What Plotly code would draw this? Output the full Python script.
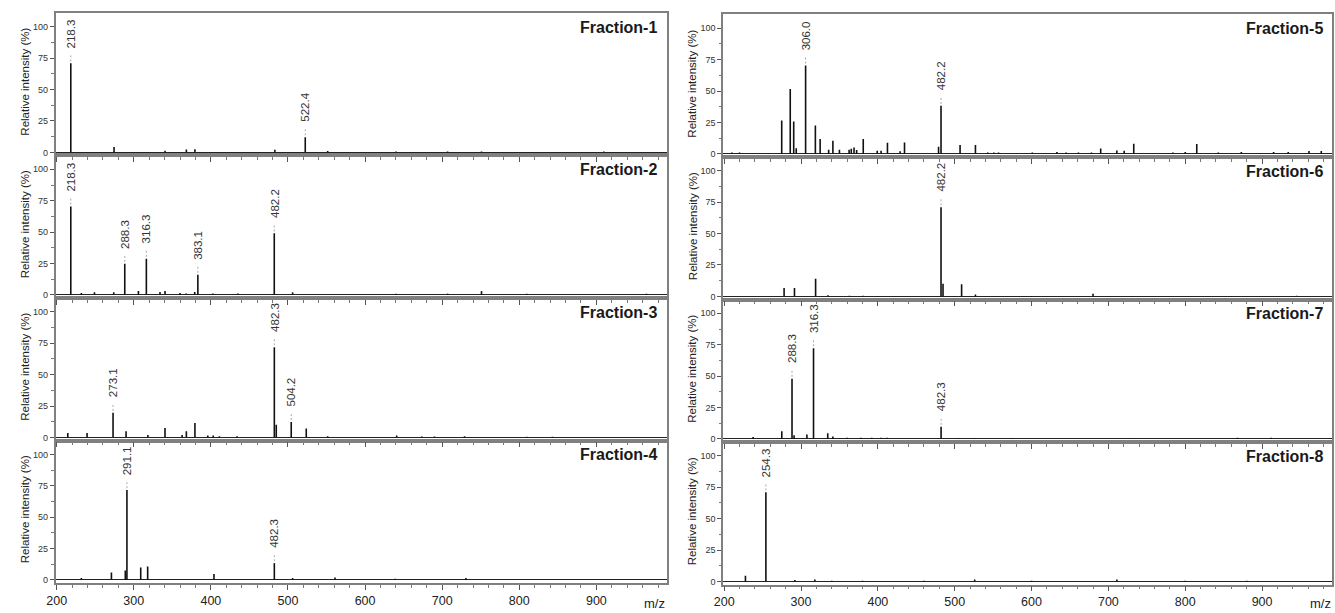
import plotly.graph_objects as go

# ---------------- data ----------------
fraction_names = ["Fraction-1", "Fraction-2", "Fraction-3", "Fraction-4",
                  "Fraction-5", "Fraction-6", "Fraction-7", "Fraction-8"]

f1_mz = [218.3, 274.4, 340.5, 368.2, 379.3, 483.0, 522.4, 551.5, 640.0, 707.0, 751.0, 909.6]
f1_int = [70.9, 4.3, 1.2, 2.2, 2.5, 2.0, 12.1, 1.0, 0.7, 0.6, 0.7, 0.7]
f1_lab = [218.3, 522.4]

f2_mz = [218.3, 232.0, 249.0, 274.0, 288.3, 306.0, 316.3, 334.0, 340.5, 360.0, 368.0, 379.0,
         383.1, 402.6, 435.0, 482.2, 506.0, 640.0, 707.0, 751.0, 809.6, 965.0]
f2_int = [70.4, 1.5, 2.0, 2.0, 24.7, 3.0, 28.8, 2.2, 3.0, 1.5, 1.2, 2.2,
          16.1, 1.2, 1.2, 49.0, 2.0, 1.0, 1.0, 3.0, 1.0, 1.0]
f2_lab = [218.3, 288.3, 316.3, 383.1, 482.2]

f3_mz = [214.4, 239.4, 273.1, 290.0, 318.3, 340.5, 362.7, 368.2, 379.3, 396.0, 403.0, 411.0,
         434.0, 482.3, 484.8, 504.2, 523.7, 551.5, 641.0, 673.6, 690.0, 729.0, 809.6, 843.0]
f3_int = [3.5, 3.5, 19.6, 5.0, 2.0, 7.5, 2.0, 5.0, 11.5, 1.5, 1.5, 1.0,
          1.0, 71.8, 10.0, 12.3, 7.0, 1.0, 1.5, 0.7, 0.7, 1.0, 0.5, 0.5]
f3_lab = [273.1, 482.3, 504.2]

f4_mz = [232.0, 271.0, 289.0, 291.1, 309.0, 318.0, 333.8, 404.0, 482.3, 506.0, 561.0, 639.0, 730.8]
f4_int = [1.5, 5.9, 7.5, 71.6, 10.0, 10.7, 0.5, 4.8, 13.4, 1.5, 2.0, 1.0, 1.5]
f4_lab = [291.1, 482.3]

f5_mz = [210.0, 220.0, 274.9, 286.0, 290.5, 293.8, 306.0, 318.7, 324.9, 336.0, 341.5, 350.0,
         362.6, 365.4, 369.0, 372.4, 381.0, 399.2, 404.2, 412.5, 429.0, 434.7, 479.0, 482.2,
         507.0, 527.0, 543.0, 551.0, 557.0, 601.0, 633.0, 645.0, 661.0, 678.0, 690.0, 711.0,
         720.5, 733.0, 784.0, 800.0, 815.0, 843.0, 873.0, 915.0, 934.0, 961.0, 977.0]
f5_int = [1.0, 1.0, 26.6, 51.6, 25.8, 4.5, 70.4, 22.6, 11.8, 3.2, 10.5, 3.2,
          3.2, 4.0, 5.0, 3.0, 11.8, 2.4, 2.4, 8.9, 2.0, 9.1, 5.6, 38.2,
          7.0, 7.0, 1.0, 1.0, 1.0, 1.0, 1.5, 1.0, 1.0, 1.0, 4.3, 2.7,
          2.4, 8.0, 1.0, 1.5, 7.8, 1.0, 1.5, 1.5, 1.5, 2.2, 2.2]
f5_lab = [306.0, 482.2]

f6_mz = [278.0, 291.5, 319.0, 335.0, 363.0, 381.0, 482.2, 484.8, 509.0, 527.0, 600.0, 680.0,
         730.0, 860.0, 945.0]
f6_int = [6.7, 6.7, 14.0, 1.0, 0.5, 0.5, 71.0, 10.0, 9.7, 1.5, 0.3, 2.0,
          0.3, 0.3, 0.5]
f6_lab = [482.2]

f7_mz = [237.7, 275.0, 288.3, 291.0, 307.7, 316.3, 334.8, 341.5, 360.0, 378.0, 392.0, 404.0,
         412.0, 482.3, 505.0, 525.0, 575.0, 733.0, 868.0, 912.0]
f7_int = [1.5, 6.2, 48.0, 3.0, 3.5, 72.2, 4.6, 2.0, 1.0, 1.0, 1.0, 1.0,
          1.0, 9.7, 0.5, 0.5, 0.5, 0.4, 1.0, 1.0]
f7_lab = [288.3, 316.3, 482.3]

f8_mz = [227.7, 254.3, 292.0, 318.0, 340.0, 380.0, 460.0, 526.0, 600.0, 711.0, 800.0, 880.0]
f8_int = [4.6, 71.0, 1.2, 1.5, 0.5, 0.5, 0.5, 1.5, 0.5, 1.5, 0.5, 0.5]
f8_lab = [254.3]

x_ticks = [200, 300, 400, 500, 600, 700, 800, 900]
y_ticks = [0, 25, 50, 75, 100]
x_title = "m/z"
y_title = "Relative intensity (%)"

all_mz = [f1_mz, f2_mz, f3_mz, f4_mz, f5_mz, f6_mz, f7_mz, f8_mz]
all_int = [f1_int, f2_int, f3_int, f4_int, f5_int, f6_int, f7_int, f8_int]
all_lab = [f1_lab, f2_lab, f3_lab, f4_lab, f5_lab, f6_lab, f7_lab, f8_lab]

# ---------------- layout geometry ----------------
W, H = 1335, 613
col_px = [(47, 662), (719, 1332)]
col_top = [13, 14.5]
panel_h = 143.0
x_range = [198.7, 991]
y_range = [-2.5, 111]

FONT = "Liberation Sans, Arial, sans-serif"
frame_col = "#808080"

fig = go.Figure()
layout = dict(width=W, height=H, margin=dict(l=0, r=0, t=0, b=0),
              paper_bgcolor="white", plot_bgcolor="white", showlegend=False,
              font=dict(family=FONT, color="#222"))
annotations = []

for i in range(8):
    col, row = i // 4, i % 4
    n = i + 1
    xa = "x" if n == 1 else f"x{n}"
    ya = "y" if n == 1 else f"y{n}"
    x0, x1 = col_px[col]
    top = col_top[col] + row * panel_h
    bot = top + panel_h
    xdom = [x0 / W, x1 / W]
    ydom = [1 - bot / H, 1 - top / H]

    # stick spectrum
    xs, ys = [], []
    for m, h in zip(all_mz[i], all_int[i]):
        xs += [m, m, None]
        ys += [0, h, None]
    fig.add_trace(go.Scatter(x=xs, y=ys, mode="lines", xaxis=xa, yaxis=ya,
                             line=dict(color="#111", width=1.6), hoverinfo="skip"))

    # dashed leaders and labels
    dx, dy = [], []
    for lab in all_lab[i]:
        h = all_int[i][all_mz[i].index(lab)]
        dx += [lab, lab, None]
        dy += [h + 1.5, h + 7, None]
        annotations.append(dict(x=lab, y=h + 10.5, xref=xa, yref=ya, text=f"{lab:.1f}",
                                textangle=-90, showarrow=False, xanchor="center",
                                yanchor="bottom", font=dict(size=11.5, color="#333", family=FONT)))
    fig.add_trace(go.Scatter(x=dx, y=dy, mode="lines", xaxis=xa, yaxis=ya,
                             line=dict(color="#aaa", width=1, dash="2px,2px"), hoverinfo="skip"))

    bottom_row = (row == 3)
    layout["xaxis" if n == 1 else f"xaxis{n}"] = dict(
        domain=xdom, range=x_range, anchor=ya, showgrid=False, zeroline=False,
        showline=True, linecolor=frame_col, linewidth=1.5, mirror=True,
        ticks="outside", ticklen=5, tickwidth=1, tickcolor="#555",
        tickvals=x_ticks, showticklabels=bottom_row,
        tickfont=dict(size=12.5, color="#222", family=FONT),
        minor=dict(dtick=20, tick0=0, ticks="outside", ticklen=3, tickcolor="#777"),
        fixedrange=True)
    layout["yaxis" if n == 1 else f"yaxis{n}"] = dict(
        domain=ydom, range=y_range, anchor=xa, showgrid=False,
        zeroline=True, zerolinecolor="#222", zerolinewidth=1.2,
        showline=True, linecolor=frame_col, linewidth=1.5, mirror=True,
        ticks="outside", ticklen=4, tickwidth=1, tickcolor="#555",
        tickvals=y_ticks, tickfont=dict(size=9, color="#333", family=FONT),
        minor=dict(dtick=12.5, tick0=0, ticks="outside", ticklen=2.5, tickcolor="#777"),
        fixedrange=True)

    # fraction title
    annotations.append(dict(x=0.988, y=0.975, xref=f"{xa} domain", yref=f"{ya} domain",
                            text=f"<b>{fraction_names[i]}</b>", showarrow=False,
                            xanchor="right", yanchor="top",
                            font=dict(size=16, color="#1a1a1a", family=FONT)))
    # y title
    annotations.append(dict(x=(x0 - 31) / W, y=(ydom[0] + ydom[1]) / 2 + 0.004, xref="paper",
                            yref="paper", text=y_title, textangle=-90, showarrow=False,
                            xanchor="center", yanchor="middle",
                            font=dict(size=11.5, color="#222", family=FONT)))

# m/z labels
for col in range(2):
    annotations.append(dict(x=(col_px[col][1] - 12) / W, y=1 - 605 / H, xref="paper",
                            yref="paper", text=x_title, showarrow=False,
                            xanchor="center", yanchor="middle",
                            font=dict(size=13, color="#222", family=FONT)))

layout["annotations"] = annotations
fig.update_layout(**layout)
fig.write_html("out.html", config={"displayModeBar": False},
               post_script="document.body.style.margin='0';document.body.style.overflow='hidden';")
